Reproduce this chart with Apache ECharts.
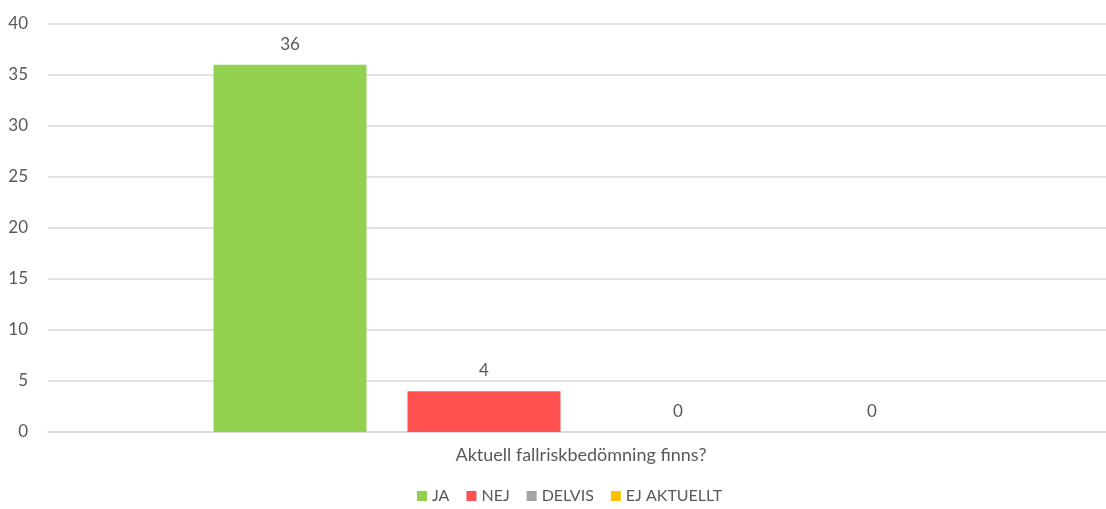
<!DOCTYPE html>
<html>
<head>
<meta charset="utf-8">
<script src="https://cdn.jsdelivr.net/npm/echarts@6/dist/echarts.min.js"></script>
<style>html,body{margin:0;padding:0;background:#fff}#c{width:1106px;height:509px}</style>
</head>
<body>
<div id="c"></div>
<script>
const categories = ["Aktuell fallriskbedömning finns?"];
const seriesNames = ["JA", "NEJ", "DELVIS", "EJ AKTUELLT"];
const valuesJA = [36];
const valuesNEJ = [4];
const valuesDELVIS = [0];
const valuesEJ = [0];
const colors = ["#92D050", "#FF5050", "#A5A5A5", "#FFC000"];

const font = "Lato, 'Open Sans', sans-serif";
const textColor = "#595959";
const allValues = [valuesJA, valuesNEJ, valuesDELVIS, valuesEJ];

const chart = echarts.init(document.getElementById('c'));
chart.setOption({
  animation: false,
  grid: { left: 48, right: -8, top: 24, bottom: 77, outerBoundsMode: 'none', containLabel: false },
  legend: {
    bottom: 0,
    left: 412,
    itemWidth: 10, itemHeight: 10, itemGap: 17,
    icon: 'rect',
    textStyle: { color: textColor, fontSize: 16, fontFamily: font },
    data: seriesNames
  },
  xAxis: {
    type: 'category',
    data: categories,
    axisLine: { show: true, lineStyle: { color: '#D9D9D9', width: 1.5 } },
    axisTick: { show: false },
    axisLabel: { color: textColor, fontSize: 18, fontFamily: font, margin: 14 }
  },
  yAxis: {
    type: 'value', min: 0, max: 40, interval: 5,
    axisLine: { show: false }, axisTick: { show: false },
    splitLine: { lineStyle: { color: '#D9D9D9', width: 1.5 } },
    axisLabel: { color: textColor, fontSize: 17, fontFamily: font, margin: 20 }
  },
  series: seriesNames.map((n, i) => ({
    name: n, type: 'bar', data: allValues[i],
    barWidth: 153, barGap: '26.8%',
    itemStyle: { color: colors[i] },
    label: { show: true, position: 'top', distance: 12, color: textColor, fontSize: 17, fontFamily: font }
  }))
});
</script>
</body>
</html>
